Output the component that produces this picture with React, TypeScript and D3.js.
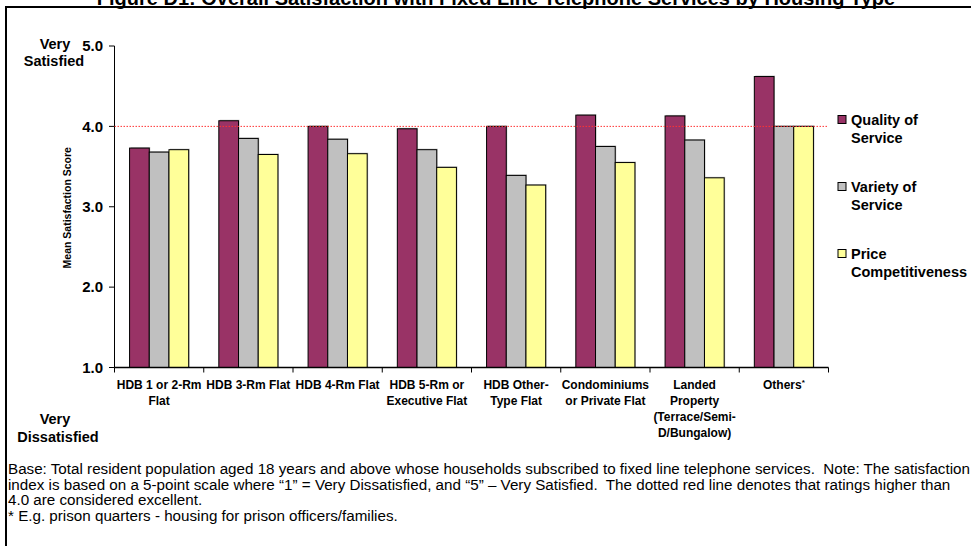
import React from "react";
import * as d3 from "d3";

// Housing types along the x axis (each entry is one wrapped label)
const categories: string[] = [
  "HDB 1 or 2-Rm Flat",
  "HDB 3-Rm Flat",
  "HDB 4-Rm Flat",
  "HDB 5-Rm or Executive Flat",
  "HDB Other-Type Flat",
  "Condominiums or Private Flat",
  "Landed Property (Terrace/Semi-D/Bungalow)",
  "Others",
];
const categoryLines: string[][] = [
  ["HDB 1 or 2-Rm", "Flat"],
  ["HDB 3-Rm Flat"],
  ["HDB 4-Rm Flat"],
  ["HDB 5-Rm or", "Executive Flat"],
  ["HDB Other-", "Type Flat"],
  ["Condominiums", "or Private Flat"],
  ["Landed", "Property", "(Terrace/Semi-", "D/Bungalow)"],
  ["Others"],
];

const seriesNames: string[] = ["Quality of Service", "Variety of Service", "Price Competitiveness"];
const seriesLegendLines: string[][] = [
  ["Quality of", "Service"],
  ["Variety of", "Service"],
  ["Price", "Competitiveness"],
];
const seriesColors: string[] = ["#993366", "#C0C0C0", "#FFFF99"];

const qualityOfService: number[] = [3.73, 4.07, 4.0, 3.97, 4.0, 4.14, 4.13, 4.62];
const varietyOfService: number[] = [3.68, 3.85, 3.84, 3.71, 3.39, 3.75, 3.83, 4.0];
const priceCompetitiveness: number[] = [3.71, 3.65, 3.66, 3.49, 3.27, 3.55, 3.36, 4.0];
const seriesValues: number[][] = [qualityOfService, varietyOfService, priceCompetitiveness];

const yTicks: number[] = [1, 2, 3, 4, 5];
const excellentThreshold = 4.0;

const title = "Figure D1: Overall Satisfaction with Fixed Line Telephone Services by Housing Type";
const footnoteLines: string[] = [
  "Base: Total resident population aged 18 years and above whose households subscribed to fixed line telephone services.  Note: The satisfaction",
  "index is based on a 5-point scale where \u201C1\u201D = Very Dissatisfied, and \u201C5\u201D \u2013 Very Satisfied.  The dotted red line denotes that ratings higher than",
  "4.0 are considered excellent.",
  "* E.g. prison quarters - housing for prison officers/families.",
];

const W = 971;
const H = 546;
const FONT = "Arial, 'Liberation Sans', Helvetica, sans-serif";

export default function App() {
  const x0 = d3.scaleBand<string>().domain(categories).range([114.5, 828.5]).padding(0);
  const x1 = d3
    .scaleBand<string>()
    .domain(seriesNames)
    .range([0, x0.bandwidth()])
    .paddingInner(0)
    .paddingOuter(0.765);
  const y = d3.scaleLinear().domain([1, 5]).range([367.5, 46]);

  const bandEdges = categories.map((c) => x0(c) as number).concat([x0.range()[1]]);

  return (
    <svg
      width={W}
      height={H}
      viewBox={`0 0 ${W} ${H}`}
      style={{ position: "absolute", left: 0, top: 0, background: "#fff" }}
      fontFamily={FONT}
    >
      {/* title, partly clipped at the top edge */}
      <text x={496} y={5} textAnchor="middle" fontSize={20} fontWeight="bold">
        {title}
      </text>

      {/* frame */}
      <path d={`M6,${H} V7 H${W}`} fill="none" stroke="#000" strokeWidth={2} />

      {/* y axis */}
      <line x1={114.5} x2={114.5} y1={y(5)} y2={y(1)} stroke="#000" strokeWidth={1} />
      {yTicks.map((t) => (
        <g key={t}>
          <line x1={109} x2={114.5} y1={y(t)} y2={y(t)} stroke="#000" />
          <text x={103} y={y(t)} dy="0.35em" textAnchor="end" fontSize={15} fontWeight="bold">
            {t.toFixed(1)}
          </text>
        </g>
      ))}
      <text
        transform={`translate(67,${(y(1) + y(5)) / 2 + 1}) rotate(-90)`}
        textAnchor="middle"
        dy="0.35em"
        fontSize={10.5}
        fontWeight="bold"
      >
        Mean Satisfaction Score
      </text>
      <text x={54} y={49} textAnchor="middle" fontSize={14.5} fontWeight="bold">
        <tspan x={55}>Very</tspan>
        <tspan x={54} dy={16.5}>Satisfied</tspan>
      </text>
      <text x={57} y={424} textAnchor="middle" fontSize={14.5} fontWeight="bold">
        <tspan x={55}>Very</tspan>
        <tspan x={58} dy={18}>Dissatisfied</tspan>
      </text>

      {/* bars */}
      {categories.map((c, ci) => (
        <g key={c} transform={`translate(${x0(c)},0)`}>
          {seriesNames.map((s, si) => {
            const v = seriesValues[si][ci];
            const bx = x1(s) as number;
            const bw = x1.bandwidth();
            return (
              <g key={s}>
                <rect
                  x={bx + 1}
                  y={y(v) - 1}
                  width={bw}
                  height={y(1) - y(v) + 1}
                  fill="#000"
                  opacity={0.25}
                />
                <rect
                  x={bx}
                  y={y(v)}
                  width={bw}
                  height={y(1) - y(v)}
                  fill={seriesColors[si]}
                  stroke="#000"
                  strokeWidth={1}
                />
              </g>
            );
          })}
        </g>
      ))}

      {/* excellence threshold */}
      <line
        x1={114.5}
        x2={828.5}
        y1={y(excellentThreshold)}
        y2={y(excellentThreshold)}
        stroke="#FF3333"
        strokeWidth={1}
        strokeDasharray="1.5,1.5"
      />

      {/* x axis */}
      <line x1={114.5} x2={828.5} y1={y(1)} y2={y(1)} stroke="#000" strokeWidth={1.5} />
      {bandEdges.map((e, i) => (
        <line key={i} x1={e} x2={e} y1={y(1)} y2={y(1) + 5} stroke="#000" />
      ))}
      {categories.map((c, ci) => (
        <text
          key={c}
          x={(x0(c) as number) + x0.bandwidth() / 2}
          y={389}
          textAnchor="middle"
          fontSize={12}
          fontWeight="bold"
        >
          {categoryLines[ci].map((line, li) => (
            <tspan key={li} x={(x0(c) as number) + x0.bandwidth() / 2} dy={li === 0 ? 0 : 16}>
              {line}
              {ci === categories.length - 1 && li === 0 ? (
                <tspan fontSize={8} dy={-4}>*</tspan>
              ) : null}
            </tspan>
          ))}
        </text>
      ))}

      {/* legend */}
      {seriesNames.map((s, si) => {
        const cy = 120 + si * 67;
        return (
          <g key={s}>
            <rect x={838} y={cy - 4.5} width={8} height={8} fill={seriesColors[si]} stroke="#000" />
            <text x={851} y={cy + 5} fontSize={14.5} fontWeight="bold">
              {seriesLegendLines[si].map((line, li) => (
                <tspan key={li} x={851} dy={li === 0 ? 0 : 17.5}>
                  {line}
                </tspan>
              ))}
            </text>
          </g>
        );
      })}

      {/* footnotes */}
      {footnoteLines.map((line, i) => (
        <text key={i} x={8} y={474 + i * 15.5} fontSize={15.2} style={{ whiteSpace: "pre" }}>
          {line}
        </text>
      ))}
    </svg>
  );
}
